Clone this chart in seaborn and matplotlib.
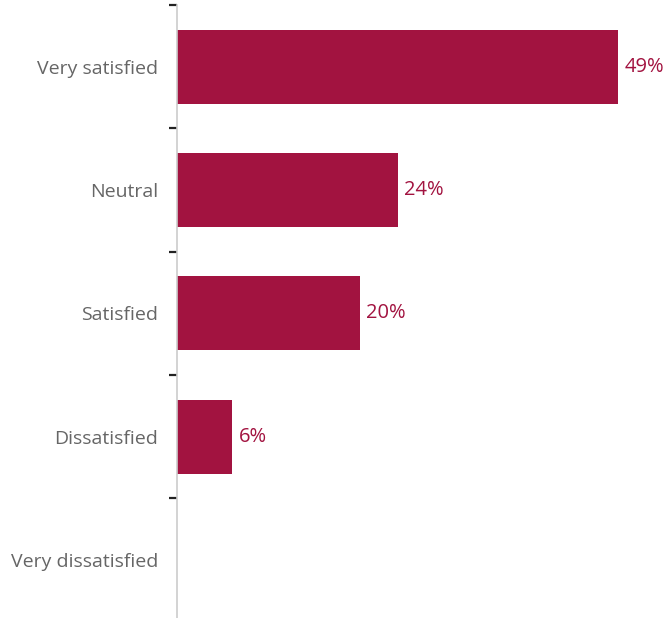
import matplotlib
matplotlib.use("Agg")
import matplotlib.pyplot as plt
import seaborn as sns
import pandas as pd

categories = ["Very satisfied", "Neutral", "Satisfied", "Dissatisfied", "Very dissatisfied"]
values = [48.8, 24.4, 20.2, 6.1, 0]
value_labels = ["49%", "24%", "20%", "6%", ""]

sns.set_style("white")
plt.rcParams['font.family'] = ['Open Sans', 'DejaVu Sans']

df = pd.DataFrame({"category": categories, "value": values})

W, H = 671, 618
fig = plt.figure(figsize=(W / 100, H / 100), dpi=100)
left_px, top_px, bottom_px, right_px = 177, 5, 621.5, 668
ax = fig.add_axes([left_px / W, (H - bottom_px) / H, (right_px - left_px) / W, (bottom_px - top_px) / H])

bar_color = "#A21340"
sns.barplot(data=df, x="value", y="category", orient="h", color=bar_color,
            width=0.6, ax=ax, saturation=1, edgecolor="none")

ax.set_xlim(0, 54.3)
ax.set_ylim(4.5, -0.5)
ax.set_xlabel("")
ax.set_ylabel("")
ax.set_xticks([])

for s in ["top", "right", "bottom"]:
    ax.spines[s].set_visible(False)
ax.spines["left"].set_color("#cccccc")
ax.spines["left"].set_linewidth(1.2)

ax.set_yticks(range(len(categories)))
ax.set_yticklabels(categories)
ax.tick_params(axis="y", which="major", left=True, length=0, pad=13.7, labelsize=14, labelcolor="#666666")
ax.set_yticks([i - 0.5 for i in range(len(categories))], minor=True)
ax.tick_params(axis="y", which="minor", left=True, length=6, width=1.6, color="#222222", direction="out")

for i, (v, lab) in enumerate(zip(values, value_labels)):
    if lab:
        ax.text(v + 0.75, i, lab, va="center", ha="left", color="#A21340", fontsize=14.5)

fig.savefig("out.png", dpi=100)
